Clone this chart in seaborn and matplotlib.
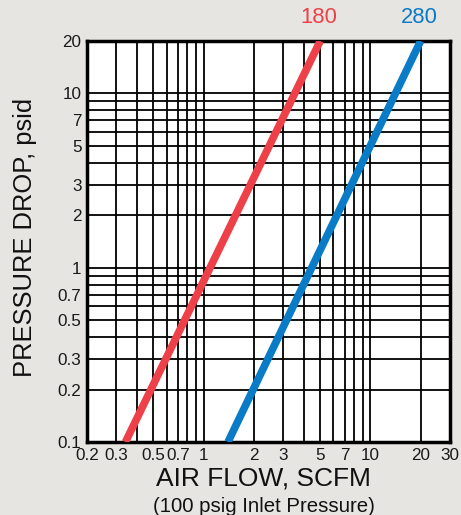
import matplotlib
matplotlib.use("Agg")
import matplotlib.pyplot as plt
import seaborn as sns
import pandas as pd

flow_180 = [0.34, 5.0]
drop_180 = [0.1, 20]
flow_280 = [1.4, 20]
drop_280 = [0.1, 20]

colors = {"180": "#EE4048", "280": "#0A7BC6"}

x_ticks = [0.2, 0.3, 0.5, 0.7, 1, 2, 3, 5, 7, 10, 20, 30]
x_ticklabels = ["0.2", "0.3", "0.5", "0.7", "1", "2", "3", "5", "7", "10", "20", "30"]
y_ticks = [0.1, 0.2, 0.3, 0.5, 0.7, 1, 2, 3, 5, 7, 10, 20]
y_ticklabels = ["0.1", "0.2", "0.3", "0.5", "0.7", "1", "2", "3", "5", "7", "10", "20"]

x_grid = [0.3, 0.4, 0.5, 0.6, 0.7, 0.8, 0.9, 1, 2, 3, 4, 5, 6, 7, 8, 9, 10, 20]
y_grid = [0.2, 0.3, 0.4, 0.5, 0.6, 0.7, 0.8, 0.9, 1, 2, 3, 4, 5, 6, 7, 8, 9, 10]

df = pd.concat([
    pd.DataFrame({"flow": flow_180, "drop": drop_180, "model": "180"}),
    pd.DataFrame({"flow": flow_280, "drop": drop_280, "model": "280"}),
])

sns.set_theme(style="white")
plt.rcParams["font.family"] = ["Liberation Sans", "DejaVu Sans"]

fig = plt.figure(figsize=(4.61, 5.15), dpi=100)
fig.patch.set_facecolor("#E7E5E2")
ax = fig.add_axes([87 / 461, 1 - 442 / 515, 363 / 461, 401 / 515])
ax.set_facecolor("white")

ax.set_xscale("log")
ax.set_yscale("log")
ax.set_xlim(0.2, 30)
ax.set_ylim(0.1, 20)

for g in x_grid:
    ax.axvline(g, color="black", lw=1.3, zorder=1)
for g in y_grid:
    ax.axhline(g, color="black", lw=1.3, zorder=1)

sns.lineplot(data=df, x="flow", y="drop", hue="model", palette=colors,
             linewidth=5.5, legend=False, ax=ax, zorder=3,
             solid_capstyle="butt")

ax.set_xticks(x_ticks)
ax.set_xticklabels(x_ticklabels)
ax.set_yticks(y_ticks)
ax.set_yticklabels(y_ticklabels)
ax.minorticks_off()
ax.tick_params(axis="both", length=0, labelsize=12.3, colors="#1a1a1a", pad=4)

for s in ax.spines.values():
    s.set_visible(True)
    s.set_color("black")
    s.set_linewidth(2.5)

ax.set_xlabel("AIR FLOW, SCFM", fontsize=19, color="#111111", va="center")
ax.xaxis.set_label_coords(0.486, -0.092)
ax.set_ylabel("PRESSURE DROP, psid", fontsize=18.4, color="#111111", va="center")
ax.yaxis.set_label_coords(-0.171, 0.511)
fig.text(263.5 / 461, 1 - 506 / 515, "(100 psig Inlet Pressure)",
         ha="center", va="center", fontsize=14.7, color="#111111")

for name, fl in [("180", flow_180), ("280", flow_280)]:
    ax.annotate(name, xy=(fl[-1] * 0.985, 20), xytext=(0, 17),
                textcoords="offset points", color=colors[name], fontsize=15.8,
                ha="center", va="center")

fig.savefig("out.png", dpi=100, facecolor=fig.get_facecolor())
